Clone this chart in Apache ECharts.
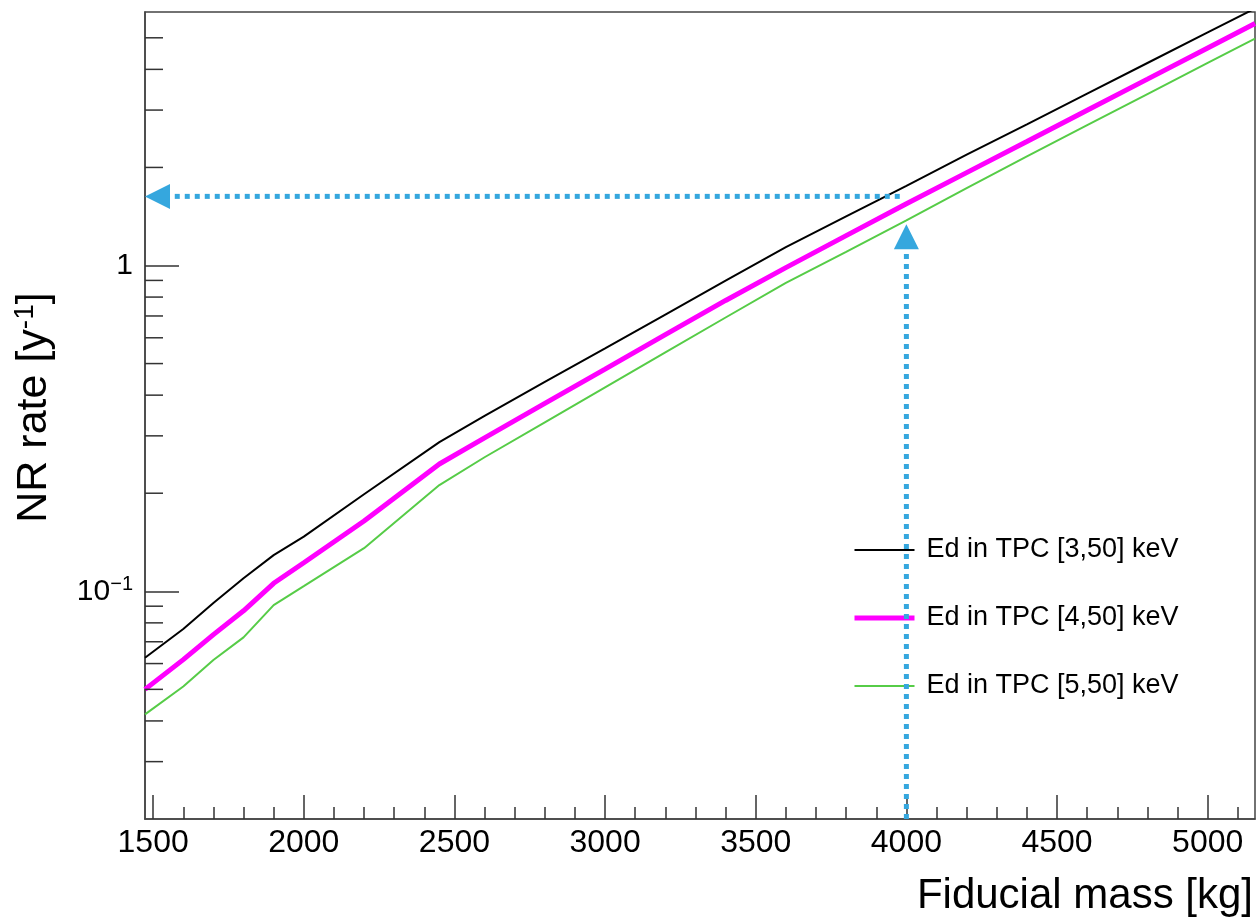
<!DOCTYPE html>
<html><head><meta charset="utf-8">
<script src="https://cdn.jsdelivr.net/npm/echarts@6/dist/echarts.min.js"></script>
<style>html,body{margin:0;padding:0;background:#fff}#c{width:1259px;height:917px}</style>
</head><body><div id="c"></div>
<script>
// ---- data ----
const massKg    = [1473, 1600, 1700, 1800, 1900, 2000, 2200, 2450, 2600, 2800, 3000, 3200, 3400, 3600, 3800, 4000, 4200, 4400, 4600, 4800, 5000, 5157];
const rate3to50 = [0.0625, 0.0766, 0.0920, 0.1097, 0.1291, 0.1471, 0.1985, 0.2869, 0.3453, 0.4390, 0.5568, 0.7069, 0.8983, 1.138, 1.415, 1.756, 2.188, 2.712, 3.372, 4.184, 5.193, 6.15];
const rate4to50 = [0.0500, 0.0617, 0.0736, 0.0871, 0.1058, 0.1224, 0.1643, 0.2459, 0.2959, 0.3772, 0.4808, 0.6133, 0.7812, 0.9853, 1.235, 1.547, 1.928, 2.403, 2.998, 3.733, 4.655, 5.528];
const rate5to50 = [0.0419, 0.0510, 0.0615, 0.0722, 0.0907, 0.1037, 0.1356, 0.2118, 0.2579, 0.3302, 0.4225, 0.5409, 0.6925, 0.8840, 1.102, 1.375, 1.727, 2.164, 2.697, 3.360, 4.187, 4.971];
const seriesNames = ['Ed in TPC [3,50] keV', 'Ed in TPC [4,50] keV', 'Ed in TPC [5,50] keV'];

const xMajorTicks = [1500, 2000, 2500, 3000, 3500, 4000, 4500, 5000];
const xMinorTicks = [1500, 1600, 1700, 1800, 1900, 2000, 2100, 2200, 2300, 2400, 2500, 2600, 2700, 2800, 2900, 3000,
                     3100, 3200, 3300, 3400, 3500, 3600, 3700, 3800, 3900, 4000, 4100, 4200, 4300, 4400, 4500, 4600,
                     4700, 4800, 4900, 5000, 5100];
const yMinorTicks = [0.03, 0.04, 0.05, 0.06, 0.07, 0.08, 0.09, 0.2, 0.3, 0.4, 0.5, 0.6, 0.7, 0.8, 0.9, 2, 3, 4, 5];

// arrows: [x from, y from, x to (tip), y to (tip)]
const arrowHorizontal = [3978, 1.63, 1473, 1.63];
const arrowVertical   = [4000, 0.02, 4000, 1.338];

const X_MIN = 1473, X_MAX = 5157, Y_MIN = 0.02, Y_MAX = 6;

// ---- chart ----
const FONT = '"Liberation Sans", Arial, Helvetica, sans-serif';
const TICK = '#333';
const BLUE = '#35a7de';
const chart = echarts.init(document.getElementById('c'));

function zip(xs, ys) { return xs.map((x, i) => [x, ys[i]]); }

const option = {
  backgroundColor: '#fff',
  animation: false,
  grid: { left: 145, right: 4, top: 12, bottom: 98, containLabel: false, outerBoundsMode: 'none',
          show: true, borderColor: '#444', borderWidth: 1.5, backgroundColor: 'transparent' },
  legend: {
    data: seriesNames,
    orient: 'vertical',
    left: 852, top: 535,
    padding: 0,
    itemWidth: 60, itemHeight: 14,
    itemGap: 38,
    itemStyle: { opacity: 0 },
    lineStyle: { width: 'inherit' },
    textStyle: { fontFamily: FONT, fontSize: 27, color: '#000', lineHeight: 30, padding: [0, 0, 0, 7] }
  },
  xAxis: [{
    type: 'value', min: X_MIN, max: X_MAX,
    axisLine: { show: true, lineStyle: { color: '#444', width: 1.5 } },
    axisTick: { show: true, inside: true, length: 24, customValues: xMajorTicks, lineStyle: { color: TICK, width: 1.5 } },
    axisLabel: { customValues: xMajorTicks, formatter: function (v) { return String(Math.round(v)); },
                 fontFamily: FONT, fontSize: 32, color: '#000', margin: 8 },
    splitLine: { show: false },
    name: 'Fiducial mass [kg]', nameLocation: 'end', nameGap: -2,
    nameTextStyle: { fontFamily: FONT, fontSize: 42, color: '#000', align: 'right', verticalAlign: 'top', padding: [56, 0, 0, 0] }
  }, {
    type: 'value', min: X_MIN, max: X_MAX, gridIndex: 0, position: 'bottom',
    axisLine: { show: false },
    axisTick: { show: true, inside: true, length: 12, customValues: xMinorTicks, lineStyle: { color: TICK, width: 1.5 } },
    axisLabel: { show: false },
    splitLine: { show: false }
  }],
  yAxis: {
    type: 'log', logBase: 10, min: Y_MIN, max: Y_MAX,
    axisLine: { show: true, lineStyle: { color: '#444', width: 1.5 } },
    axisTick: { show: true, inside: true, length: 34, lineStyle: { color: TICK, width: 1.5 } },
    axisLabel: {
      showMinLabel: false, showMaxLabel: false, margin: 12,
      formatter: function (v) { return Math.abs(v - 1) < 1e-9 ? '{b|1}' : '{b|10}{s|−1}'; },
      rich: {
        b: { fontFamily: FONT, fontSize: 30, color: '#000', lineHeight: 34 },
        s: { fontFamily: FONT, fontSize: 20, color: '#000', lineHeight: 34, verticalAlign: 'top' }
      }
    },
    splitLine: { show: false },
    name: '{t|NR rate [y}{s|-1}{t|]}', nameLocation: 'middle', nameGap: 88,
    nameTextStyle: {
      padding: [0, 0, 0, 16],
      rich: {
        t: { fontFamily: FONT, fontSize: 43, color: '#000', lineHeight: 46 },
        s: { fontFamily: FONT, fontSize: 28, color: '#000', lineHeight: 46, verticalAlign: 'top' }
      }
    }
  },
  series: [
    { name: seriesNames[0], type: 'line', data: zip(massKg, rate3to50), symbol: 'none', color: '#000', lineStyle: { color: '#000', width: 2 }, z: 3 },
    { name: seriesNames[1], type: 'line', data: zip(massKg, rate4to50), symbol: 'none', color: '#ff00ff', lineStyle: { color: '#ff00ff', width: 5 }, z: 3 },
    { name: seriesNames[2], type: 'line', data: zip(massKg, rate5to50), symbol: 'none', color: '#56cc47', lineStyle: { color: '#56cc47', width: 2 }, z: 3 },
    {
      type: 'custom', name: 'yMinor', silent: true, z: 4,
      data: yMinorTicks.map(v => [X_MIN, v]),
      renderItem: function (params, api) {
        const p = api.coord([api.value(0), api.value(1)]);
        return { type: 'line', shape: { x1: p[0], y1: p[1], x2: p[0] + 18, y2: p[1] }, style: { stroke: TICK, lineWidth: 1.5 } };
      }
    },
    {
      type: 'custom', name: 'arrows', silent: true, z: 5, clip: false,
      encode: { x: [0, 2], y: [1, 3] },
      data: [arrowHorizontal, arrowVertical],
      renderItem: function (params, api) {
        const a = api.coord([api.value(0), api.value(1)]);
        const b = api.coord([api.value(2), api.value(3)]);
        const dx = b[0] - a[0], dy = b[1] - a[1];
        const len = Math.sqrt(dx * dx + dy * dy);
        const ux = dx / len, uy = dy / len;
        const head = 25, half = 12.5;
        const bx = b[0] - ux * head, by = b[1] - uy * head;
        const nx = -uy, ny = ux;
        return {
          type: 'group',
          children: [
            { type: 'line', shape: { x1: a[0], y1: a[1], x2: bx, y2: by },
              style: { stroke: BLUE, lineWidth: 5, lineDash: [5, 5], lineCap: 'butt' } },
            { type: 'polygon', shape: { points: [[b[0], b[1]], [bx + nx * half, by + ny * half], [bx - nx * half, by - ny * half]] },
              style: { fill: BLUE } }
          ]
        };
      }
    }
  ]
};
chart.setOption(option);
</script>
</body></html>
